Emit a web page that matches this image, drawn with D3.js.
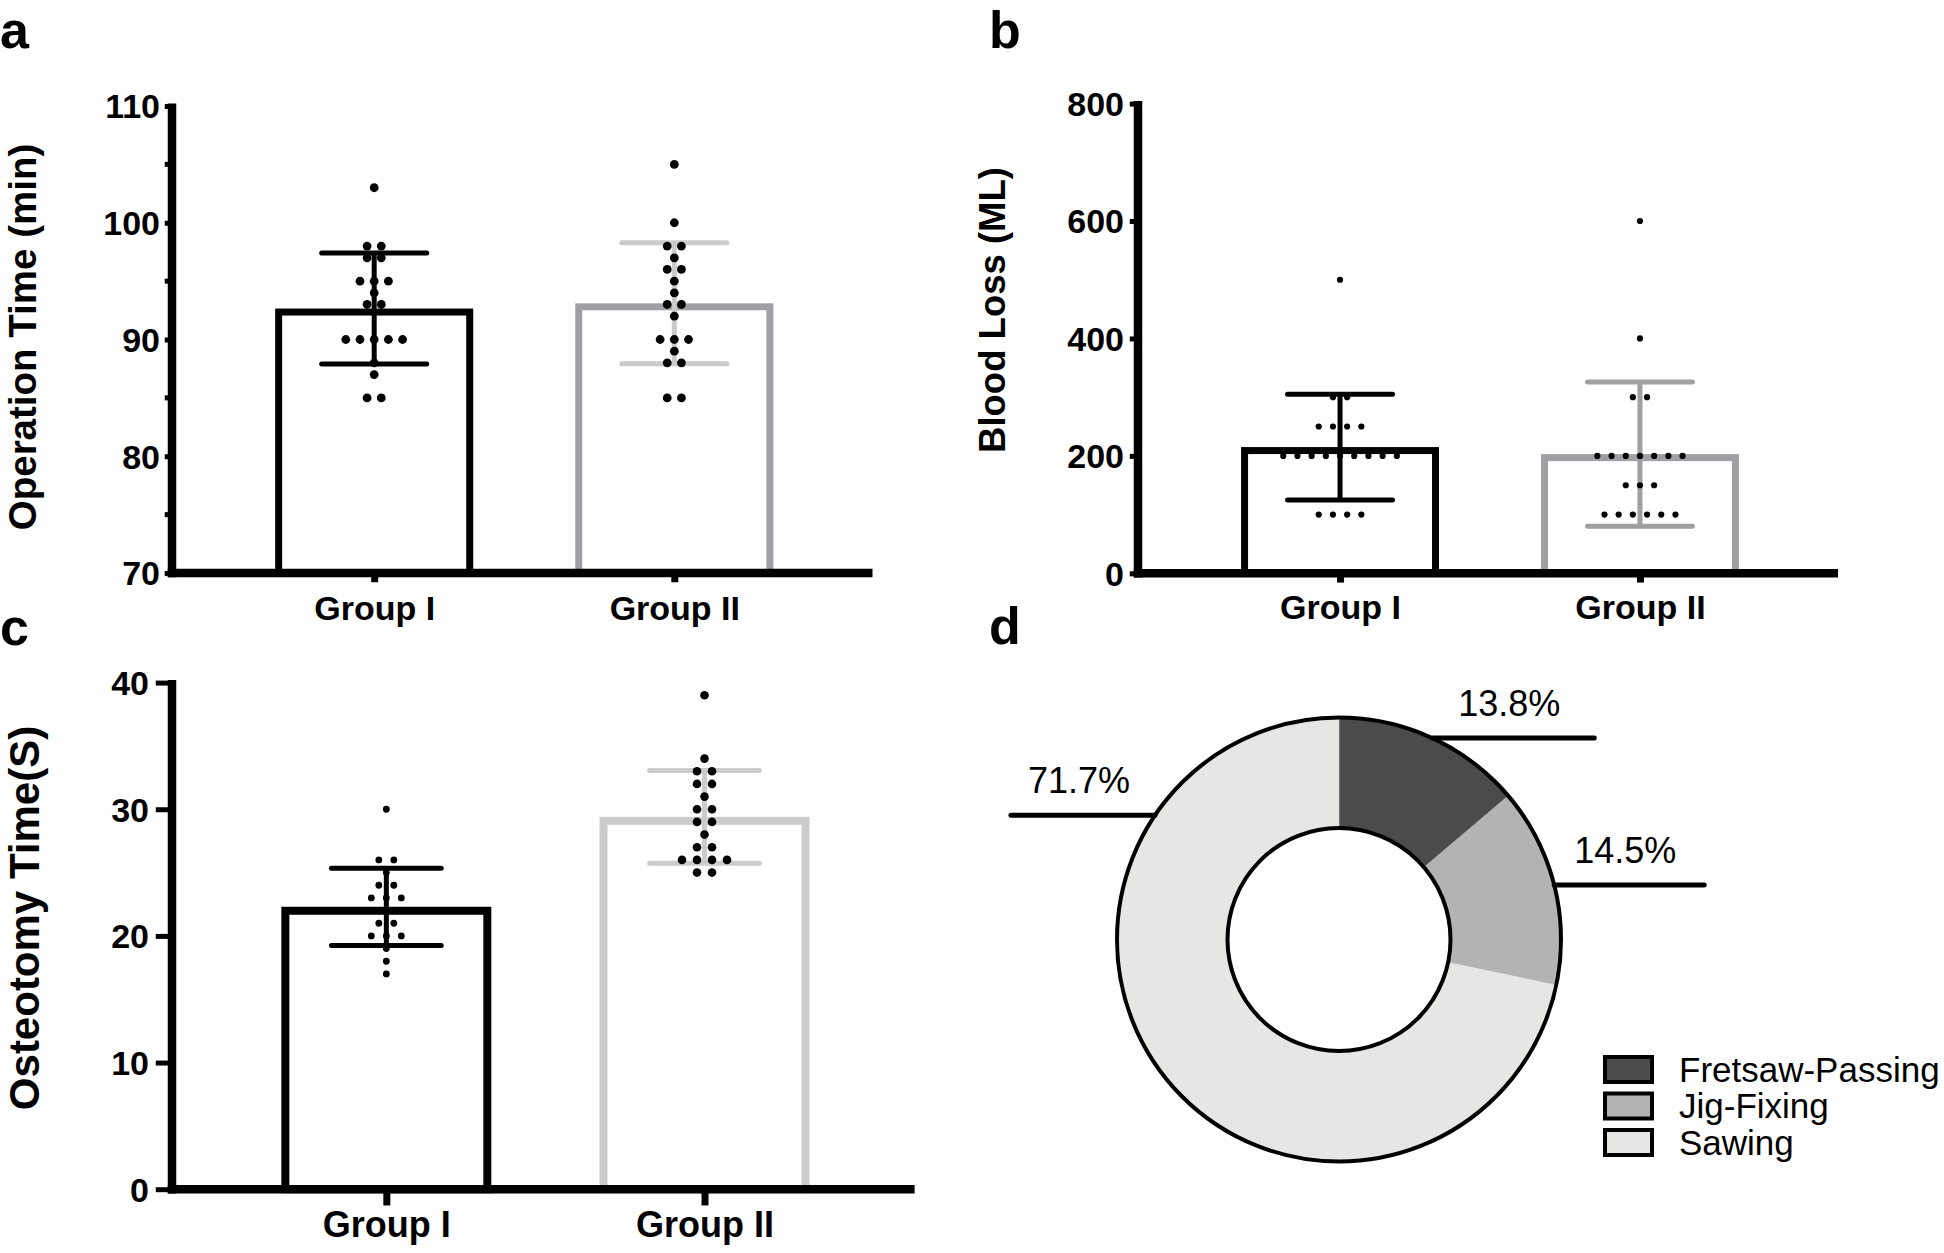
<!DOCTYPE html>
<html>
<head>
<meta charset="utf-8">
<script src="https://cdn.jsdelivr.net/npm/d3@7"></script>
<style>
  html, body { margin: 0; padding: 0; background: #ffffff; }
  svg { display: block; }
  text { font-family: "Liberation Sans", Arial, Helvetica, sans-serif; fill: #000; }
</style>
</head>
<body>
<script>
// ---------------- DATA ----------------
const groups = ["Group I", "Group II"];

// Panel a: Operation Time (min)
const opTimeGroupI  = [103, 98, 98, 97, 97, 95, 95, 95, 94, 93, 93, 90, 90, 90, 90, 90, 88, 87, 85, 85];
const opTimeGroupII = [105, 100, 98, 98, 97, 96, 96, 95, 94, 93, 93, 92, 90, 90, 90, 89, 88, 88, 85, 85];
const opTimeMean = [92.65, 93.1];
const opTimeSD   = [4.75, 5.18];
const opTimeTicks = [70, 80, 90, 100, 110];
const opTimeMinorTicks = [75, 85, 95, 105];

// Panel b: Blood Loss (ML)
const bloodGroupI  = [500, 300, 300, 250, 250, 250, 250, 200, 200, 200, 200, 200, 200, 200, 200, 200, 100, 100, 100, 100];
const bloodGroupII = [600, 400, 300, 300, 200, 200, 200, 200, 200, 200, 200, 150, 150, 150, 100, 100, 100, 100, 100, 100];
const bloodMean = [215, 203];
const bloodSD   = [90, 123];
const bloodTicks = [0, 200, 400, 600, 800];

// Panel c: Osteotomy Time (S)
const osteoGroupI  = [30, 26, 26, 25, 24, 24, 23, 23, 23, 22, 22, 22, 21, 21, 20, 20, 20, 19, 18, 17];
const osteoGroupII = [39, 34, 33, 33, 32, 32, 31, 30, 30, 29, 29, 28, 27, 27, 26, 26, 26, 26, 25, 25];
const osteoMean = [22.3, 29.4];
const osteoSD   = [3.05, 3.66];
const osteoTicks = [0, 10, 20, 30, 40];

// Panel d: donut
const stepNames  = ["Fretsaw-Passing", "Jig-Fixing", "Sawing"];
const stepShares = [13.8, 14.5, 71.7];
const stepLabels = ["13.8%", "14.5%", "71.7%"];

// ---------------- SETUP ----------------
const svg = d3.select("body").append("svg")
  .attr("width", 1944).attr("height", 1253);

const FONT = '"Liberation Sans", Arial, Helvetica, sans-serif';

function panelLetter(t, x, y) {
  svg.append("text").attr("x", x).attr("y", y)
    .attr("font-size", 52).attr("font-weight", "bold").text(t);
}

function barPanel(cfg) {
  const g = svg.append("g");
  const x = d3.scalePoint().domain(groups).range([cfg.x0, cfg.x1]).padding(0.667).align(0.505);
  const y = d3.scaleLinear().domain(cfg.domain).range([cfg.yBot, cfg.yTop]);
  const step = x.step();
  const bw = 0.66 * step;
  const sw = cfg.barStroke;
  const AX = 8.5;

  // bars (outer top edge = mean)
  g.selectAll("rect.bar").data(groups).join("rect")
    .attr("class", "bar")
    .attr("x", d => x(d) - bw / 2 + sw / 2)
    .attr("y", (d, i) => y(cfg.means[i]) + sw / 2)
    .attr("width", bw - sw)
    .attr("height", (d, i) => y(cfg.domain[0]) - y(cfg.means[i]) - sw / 2)
    .attr("fill", "#fff")
    .attr("stroke", (d, i) => cfg.barColors[i])
    .attr("stroke-width", sw);

  // error bars (mean ± SD)
  const capW = cfg.capFrac * step;
  groups.forEach((gname, i) => {
    const cx = x(gname);
    const hi = y(cfg.means[i] + cfg.sds[i]);
    const lo = y(cfg.means[i] - cfg.sds[i]);
    g.append("line").attr("x1", cx).attr("x2", cx).attr("y1", hi).attr("y2", lo)
      .attr("stroke", cfg.errColors[i]).attr("stroke-width", 5);
    [hi, lo].forEach(yy => {
      g.append("line").attr("x1", cx - capW / 2).attr("x2", cx + capW / 2)
        .attr("y1", yy).attr("y2", yy)
        .attr("stroke", cfg.errColors[i]).attr("stroke-width", 5)
        .attr("stroke-linecap", "round");
    });
  });

  // dots (scatter rows centred on group)
  cfg.dots.forEach((vals, i) => {
    const cx = x(groups[i]);
    const rows = d3.groups(vals, v => v);
    const pts = [];
    rows.forEach(([v, arr]) => {
      const k = arr.length;
      arr.forEach((_, j) => pts.push({ cx: cx + (j - (k - 1) / 2) * cfg.dotSpacing, cy: y(v) }));
    });
    g.selectAll(null).data(pts).join("circle")
      .attr("cx", p => p.cx).attr("cy", p => p.cy)
      .attr("r", cfg.dotR[i]).attr("fill", "#000");
  });

  // y axis
  const tickLen = AX / 2 + cfg.tickOut;
  const yAxis = d3.axisLeft(y).tickValues(cfg.ticks).tickSize(tickLen).tickSizeOuter(0)
    .tickFormat(d3.format("d"));
  const gy = svg.append("g").attr("transform", `translate(${cfg.x0},0)`).call(yAxis);
  gy.select(".domain").remove();
  gy.selectAll(".tick line").attr("stroke", "#000").attr("stroke-width", 5);
  gy.selectAll(".tick text")
    .attr("x", -cfg.labelOff).attr("dy", "0.35em")
    .attr("font-size", cfg.tickFont).attr("font-weight", "bold")
    .attr("font-family", FONT).attr("fill", "#000");
  if (cfg.minorTicks) {
    gy.selectAll("line.minor").data(cfg.minorTicks).join("line")
      .attr("class", "minor")
      .attr("x1", 0).attr("x2", -tickLen)
      .attr("y1", d => y(d)).attr("y2", d => y(d))
      .attr("stroke", "#000").attr("stroke-width", 5);
  }
  // y axis line
  svg.append("line").attr("x1", cfg.x0).attr("x2", cfg.x0)
    .attr("y1", y(cfg.domain[1]) - 2.5).attr("y2", y(cfg.domain[0]) + AX / 2)
    .attr("stroke", "#000").attr("stroke-width", AX);

  // x axis
  const y0 = y(cfg.domain[0]);
  svg.append("line").attr("x1", cfg.x0 - AX / 2).attr("x2", cfg.x1)
    .attr("y1", y0).attr("y2", y0).attr("stroke", "#000").attr("stroke-width", AX);
  const xAxis = d3.axisBottom(x).tickSize(AX / 2 + cfg.xTickOut).tickSizeOuter(0);
  const gx = svg.append("g").attr("transform", `translate(0,${y0})`).call(xAxis);
  gx.select(".domain").remove();
  gx.selectAll(".tick line").attr("stroke", "#000").attr("stroke-width", 7);
  gx.selectAll(".tick text")
    .attr("y", cfg.xLabelDy).attr("dy", 0)
    .attr("font-size", cfg.xFont).attr("font-weight", "bold")
    .attr("font-family", FONT).attr("fill", "#000");

  // y title
  svg.append("text")
    .attr("transform", `translate(${cfg.titleX},${cfg.titleY}) rotate(-90)`)
    .attr("text-anchor", "middle")
    .attr("font-size", cfg.titleFont).attr("font-weight", "bold")
    .text(cfg.title);
}

// Panel a
barPanel({
  x0: 172, x1: 872.5, yTop: 106, yBot: 573, domain: [70, 110],
  ticks: opTimeTicks, minorTicks: opTimeMinorTicks,
  dots: [opTimeGroupI, opTimeGroupII], means: opTimeMean, sds: opTimeSD,
  barColors: ["#000", "#a0a0a4"], errColors: ["#000", "#cbcbcb"],
  barStroke: 7, capFrac: 0.35, dotR: [4.4, 4.4], dotSpacing: 14.2,
  tickOut: 3, labelOff: 12, tickFont: 34, xTickOut: 5, xLabelDy: 47, xFont: 34,
  title: "Operation Time (min)", titleX: 36, titleY: 337, titleFont: 38.5
});

// Panel b
barPanel({
  x0: 1138, x1: 1838, yTop: 103.6, yBot: 573.3, domain: [0, 800],
  ticks: bloodTicks, minorTicks: null,
  dots: [bloodGroupI, bloodGroupII], means: bloodMean, sds: bloodSD,
  barColors: ["#000", "#a0a0a4"], errColors: ["#000", "#a0a0a4"],
  barStroke: 7, capFrac: 0.35, dotR: [3.1, 3.1], dotSpacing: 14.2,
  tickOut: 4, labelOff: 14, tickFont: 34, xTickOut: 5, xLabelDy: 46, xFont: 34,
  title: "Blood Loss (ML)", titleX: 1005, titleY: 310, titleFont: 36.5
});

// Panel c
barPanel({
  x0: 172, x1: 914.6, yTop: 682.6, yBot: 1189.2, domain: [0, 40],
  ticks: osteoTicks, minorTicks: null,
  dots: [osteoGroupI, osteoGroupII], means: osteoMean, sds: osteoSD,
  barColors: ["#000", "#cccccc"], errColors: ["#000", "#cccccc"],
  barStroke: 8, capFrac: 0.345, dotR: [3.4, 4.3], dotSpacing: 15,
  tickOut: 12, labelOff: 23, tickFont: 34, xTickOut: 12, xLabelDy: 48, xFont: 36,
  title: "Osteotomy Time(S)", titleX: 39, titleY: 918, titleFont: 42
});

// Panel letters
panelLetter("a", 0, 48);
panelLetter("b", 989, 48);
panelLetter("c", 0, 645);
panelLetter("d", 989, 644);

// ---------------- Panel d: donut ----------------
const cx = 1339, cy = 939.5, rOut = 222, rIn = 111.5;
const colors = ["#4b4b4b", "#b3b3b3", "#e6e6e5"];
const pie = d3.pie().sort(null).value(d => d)(stepShares);
const arc = d3.arc().innerRadius(rIn).outerRadius(rOut);
const gd = svg.append("g").attr("transform", `translate(${cx},${cy})`);
gd.selectAll("path").data(pie).join("path")
  .attr("d", arc).attr("fill", (d, i) => colors[i])
  .attr("stroke", (d, i) => colors[i]).attr("stroke-width", 0.6);
gd.append("circle").attr("r", rOut).attr("fill", "none").attr("stroke", "#000").attr("stroke-width", 4);
gd.append("circle").attr("r", rIn).attr("fill", "none").attr("stroke", "#000").attr("stroke-width", 4);

// label leader lines (horizontal, from the ring edge outward)
const labelAngles = pie.map((p, i) => i < 2 ? (p.startAngle + p.endAngle) / 2 : 304 * Math.PI / 180);
const labelLen = [162, 150, 144];
labelAngles.forEach((a, i) => {
  const ex = Math.sin(a) * rOut, ey = -Math.cos(a) * rOut;
  const dir = ex >= 0 ? 1 : -1;
  const x2 = ex + dir * labelLen[i];
  gd.append("line").attr("x1", ex).attr("y1", ey).attr("x2", x2).attr("y2", ey)
    .attr("stroke", "#000").attr("stroke-width", 5).attr("stroke-linecap", "round");
  gd.append("text").attr("x", (ex + x2) / 2 - 4).attr("y", ey - 22)
    .attr("text-anchor", "middle").attr("font-size", 36).text(stepLabels[i]);
});

// legend
const lg = svg.append("g").attr("transform", "translate(1605,1057)");
stepNames.forEach((n, i) => {
  lg.append("rect").attr("x", 0).attr("y", i * 36.5).attr("width", 47).attr("height", 25)
    .attr("fill", colors[i]).attr("stroke", "#000").attr("stroke-width", 4);
  lg.append("text").attr("x", 74).attr("y", i * 36.5 + 24.5)
    .attr("font-size", 35).text(n);
});
</script>
</body>
</html>
